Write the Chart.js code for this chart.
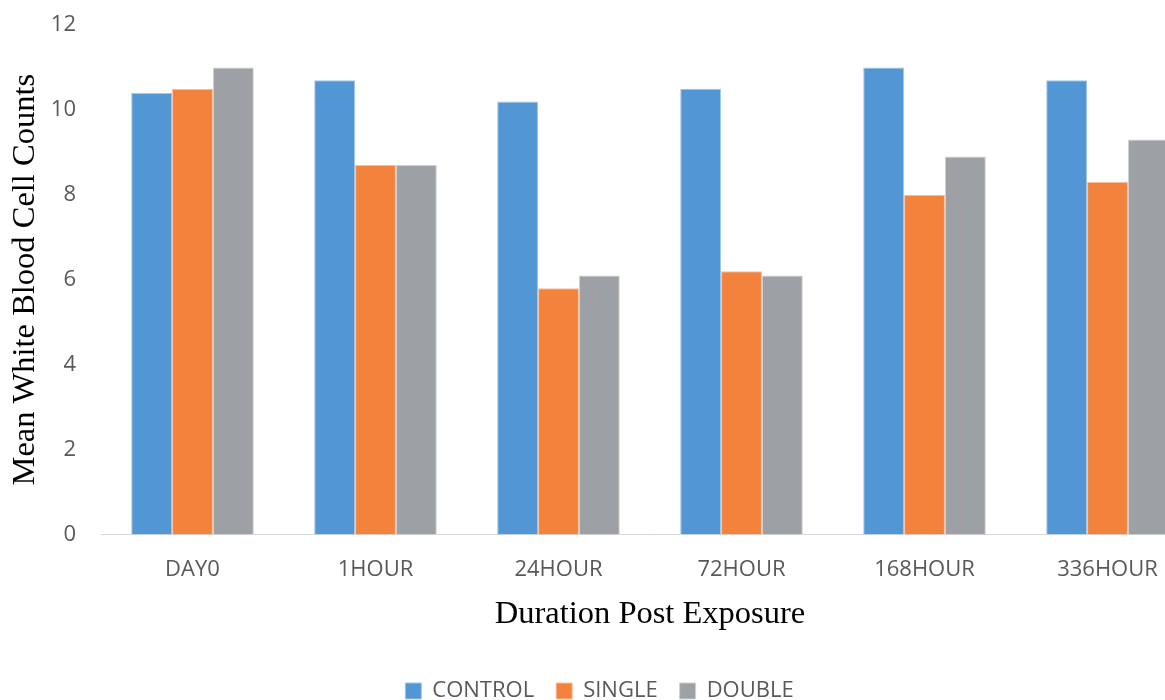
<!DOCTYPE html>
<html>
<head>
<meta charset="utf-8">
<script src="https://cdn.jsdelivr.net/npm/chart.js@4.4.0/dist/chart.umd.min.js"></script>
<style>
  html, body { margin: 0; padding: 0; background: #fff; overflow: hidden; }
  #wrap { position: relative; width: 1200px; height: 712px; }
</style>
</head>
<body>
<div id="wrap"><canvas id="barWbc"></canvas></div>
<script>
const categories = ['DAY0', '1HOUR', '24HOUR', '72HOUR', '168HOUR', '336HOUR'];
const controlValues = [10.4, 10.7, 10.2, 10.5, 11.0, 10.7];
const singleValues = [10.5, 8.7, 5.8, 6.2, 8.0, 8.3];
const doubleValues = [11.0, 8.7, 6.1, 6.1, 8.9, 9.3];
const yTicks = [0, 2, 4, 6, 8, 10, 12];

document.addEventListener('DOMContentLoaded', function() {
    let ctx = document.getElementById('barWbc').getContext('2d');
    let data = {
        labels: categories,
        datasets: [{
            label: 'CONTROL',
            data: controlValues,
            backgroundColor: '#5297d3',
            borderColor: '#a3c6e8',
            borderWidth: 1
        }, {
            label: 'SINGLE',
            data: singleValues,
            backgroundColor: '#f3823c',
            borderColor: '#f8bf9b',
            borderWidth: 1
        }, {
            label: 'DOUBLE',
            data: doubleValues,
            backgroundColor: '#9da0a4',
            borderColor: '#cfd1d3',
            borderWidth: 1
        }]
    };

    let barWbc = new Chart(ctx, {
        type: 'bar',
        data: data,
        options: {
            responsive: true,
            maintainAspectRatio: false,
            animation: false,
            layout: { padding: { top: 25, right: 1, left: 0, bottom: 0 } },
            datasets: {
                bar: { categoryPercentage: 0.67, barPercentage: 1.0 }
            },
            plugins: {
                tooltip: { enabled: false },
                legend: {
                    position: 'bottom',
                    labels: {
                        usePointStyle: true,
                        pointStyle: 'rect',
                        boxWidth: 16,
                        boxHeight: 16,
                        padding: 22,
                        color: '#595959',
                        font: { family: 'Open Sans', size: 22 }
                    }
                }
            },
            scales: {
                x: {
                    afterFit: function(scale) {
                        scale.height = 123.6;
                    },
                    grid: { display: false, drawTicks: false },
                    border: { display: true, color: '#d9d9d9', width: 1 },
                    ticks: {
                        color: '#595959',
                        padding: 22,
                        font: { family: 'Open Sans', size: 22 }
                    },
                    title: {
                        display: true,
                        text: 'Duration Post Exposure',
                        color: '#000',
                        padding: { top: 4, bottom: 24 },
                        font: { family: 'Liberation Serif', size: 32.5 }
                    }
                },
                y: {
                    min: 0,
                    max: 12,
                    afterBuildTicks: function(scale) {
                        scale.ticks = yTicks.map(v => ({ value: v }));
                    },
                    afterFit: function(scale) {
                        scale.width = 101;
                        scale.paddingTop = 12;
                        scale.paddingBottom = 12;
                    },
                    grid: { display: false, drawTicks: false },
                    border: { display: false },
                    ticks: {
                        color: '#595959',
                        padding: 25,
                        font: { family: 'Open Sans', size: 22 }
                    },
                    title: {
                        display: true,
                        text: 'Mean White Blood Cell Counts',
                        color: '#000',
                        padding: { top: 6, bottom: 0 },
                        font: { family: 'Liberation Serif', size: 32.5 }
                    }
                }
            }
        }
    });
});
</script>
</body>
</html>
